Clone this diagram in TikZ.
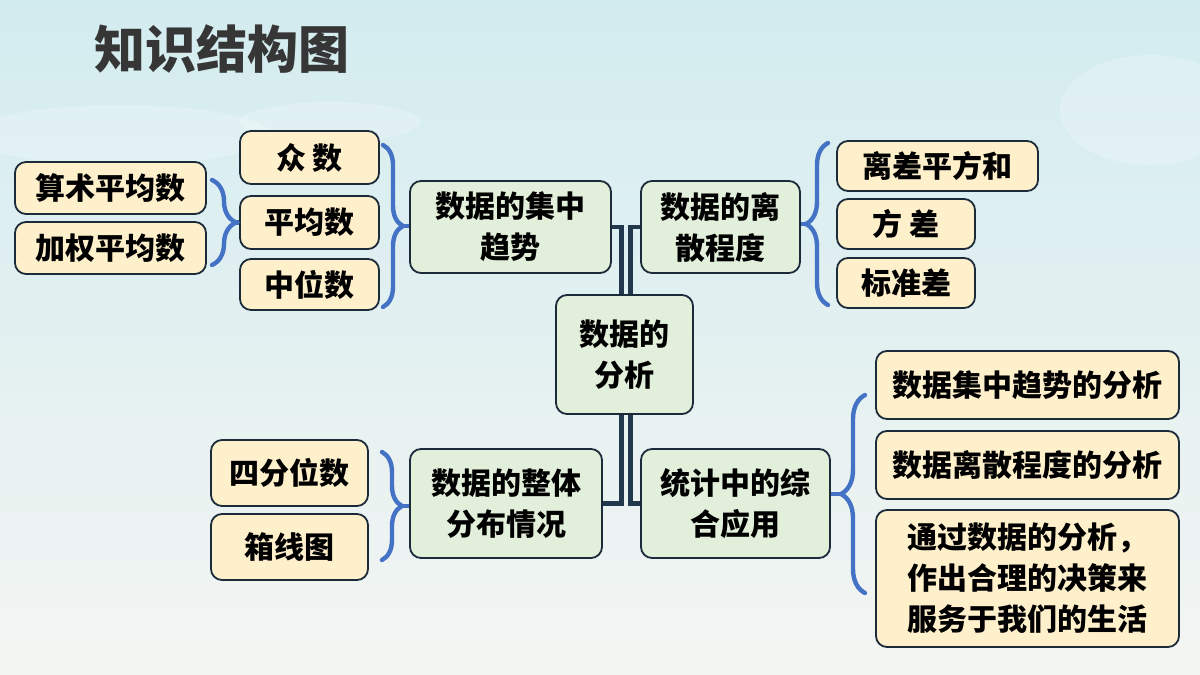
\documentclass[tikz,border=0pt]{standalone}
\usepackage{fontspec}
\setmainfont{Noto Sans CJK SC}
\usepackage{tikz}
\usetikzlibrary{
  positioning,
  calc,
  decorations.pathreplacing
}
\definecolor{skyTop}{HTML}{D3ECF0}
\definecolor{skyMid}{HTML}{E7F2F2}
\definecolor{skyBottom}{HTML}{F3F5F2}
\definecolor{titleGray}{HTML}{363636}
\definecolor{boxBorder}{HTML}{1C2B3A}
\definecolor{leafFill}{HTML}{FFF0CC}
\definecolor{topicFill}{HTML}{E2EFDA}
\definecolor{braceBlue}{HTML}{4472C4}
\definecolor{trunkDark}{HTML}{22384D}
\tikzset{
  mapbox/.style={
    rounded corners=11pt,
    draw=boxBorder, line width=1.8pt,
    font=\fontsize{30}{41}\selectfont\bfseries, text=black,
    inner sep=2pt, align=center,
  },
  leafbox/.style 2 args={
    mapbox, fill=leafFill,
    minimum width=#1, minimum height=#2,
  },
  topicbox/.style 2 args={
    mapbox, fill=topicFill,
    minimum width=#1, minimum height=#2,
  },
  curly/.style={
    draw=braceBlue, line width=4.4pt, line cap=round,
    decorate, decoration={brace, amplitude=#1},
  },
  tipline/.style={
    draw=braceBlue, line width=4.4pt,
  },
  trunk/.style={
    draw=trunkDark, line width=4.2pt,
  },
  cloud/.style={
    fill=white, opacity=.22,
  },
}

\begin{document}
\begin{tikzpicture}[x=1pt, y=-1pt]

  % ─── Background ──────────────────────────────────────────────────────
  \useasboundingbox (0,0) rectangle (1200,675);
  \fill[top color=skyTop, middle color=skyMid, bottom color=skyBottom]
    (0,0) rectangle (1200,675);
  \fill[cloud] (120,135) ellipse (150 and 30);
  \fill[cloud] (330,122) ellipse (90 and 20);
  \fill[cloud] (1150,110) ellipse (90 and 55);

  % ─── Title ───────────────────────────────────────────────────────────
  \node[font=\fontsize{51}{51}\selectfont\bfseries, text=titleGray]
    (title) at (222,49) {知识结构图};

  % ─── Root ────────────────────────────────────────────────────────────
  \node[topicbox={137pt}{119pt}] (root) at (624.5,354.5) {数据的\\分析};

  % ─── Central tendency branch ─────────────────────────────────────────
  \node[topicbox={201pt}{92pt}] (central) at (510.5,227) {数据的集中\\趋势};

  \node[leafbox={139pt}{53pt}] (mode)   at (309.5,157.5) {众 数};
  \node[leafbox={139pt}{53pt}] (mean)   at (309.5,222.5) {平均数};
  \node[leafbox={139pt}{51pt}] (median) at (309.5,284.5) {中位数};

  \node[leafbox={191pt}{52pt}] (arith)    at (110.5,188) {算术平均数};
  \node[leafbox={191pt}{52pt}] (weighted) at (110.5,248) {加权平均数};

  % brace: mode / mean / median -> central
  \coordinate (bcT) at (383,145);
  \coordinate (bcB) at (383,307);
  \draw[curly=20pt] (bcT) -- (bcB);
  \coordinate (bcTip) at ($(bcT)!.5!(bcB)+(20,0)$);
  \draw[tipline] (bcTip) -- (bcTip -| central.west);

  % brace: arithmetic / weighted -> mean
  \coordinate (bmT) at (212,180);
  \coordinate (bmB) at (212,265);
  \draw[curly=24pt] (bmT) -- (bmB);
  \coordinate (bmTip) at ($(bmT)!.5!(bmB)+(24,0)$);
  \draw[tipline] (bmTip) -- (bmTip -| mean.west);

  % ─── Dispersion branch ───────────────────────────────────────────────
  \node[topicbox={159pt}{92pt}] (spread) at (720.5,227) {数据的离\\散程度};

  \node[leafbox={201pt}{50pt}] (sumsq)  at (937.5,166) {离差平方和};
  \node[leafbox={138pt}{50pt}] (var)    at (906,224)   {方 差};
  \node[leafbox={138pt}{50pt}] (stddev) at (906,283)   {标准差};

  \coordinate (bsT) at (828,143);
  \coordinate (bsB) at (828,305);
  \draw[curly=22pt] (bsB) -- (bsT);
  \coordinate (bsTip) at ($(bsT)!.5!(bsB)+(-22,0)$);
  \draw[tipline] (bsTip) -- (bsTip -| spread.east);

  % ─── Overall distribution branch ─────────────────────────────────────
  \node[topicbox={192pt}{109pt}] (overall) at (506,503.5) {数据的整体\\分布情况};

  \node[leafbox={157pt}{66pt}] (quart) at (289.5,473) {四分位数};
  \node[leafbox={157pt}{66pt}] (boxpl) at (289.5,547) {箱线图};

  \coordinate (boT) at (382,452);
  \coordinate (boB) at (382,560);
  \draw[curly=20pt] (boT) -- (boB);
  \coordinate (boTip) at ($(boT)!.5!(boB)+(20,0)$);
  \draw[tipline] (boTip) -- (boTip -| overall.west);

  % ─── Application branch ──────────────────────────────────────────────
  \node[topicbox={189pt}{109pt}] (apply) at (735.5,503.5) {统计中的综\\合应用};

  \node[leafbox={303pt}{68pt}] (useA) at (1027.5,385) {数据集中趋势的分析};
  \node[leafbox={303pt}{68pt}] (useB) at (1027.5,465) {数据离散程度的分析};
  \node[leafbox={303pt}{137pt}, align=left]
    (useC) at (1027.5,578.5) {通过数据的分析，\\作出合理的决策来\\服务于我们的生活};

  \coordinate (baT) at (865,395);
  \coordinate (baB) at (865,593);
  \draw[curly=24pt] (baB) -- (baT);
  \coordinate (baTip) at ($(baT)!.5!(baB)+(-24,0)$);
  \draw[tipline] (baTip) -- (baTip -| apply.east);

  % ─── Trunk: double lines into the root ───────────────────────────────
  \draw[trunk] (central.east) -| ([xshift=-3pt]root.north);
  \draw[trunk] (spread.west)  -| ([xshift=6pt]root.north);
  \draw[trunk] ([xshift=-3pt]root.south) |- (overall.east);
  \draw[trunk] ([xshift=6pt]root.south)  |- (apply.west);

\end{tikzpicture}
\end{document}
